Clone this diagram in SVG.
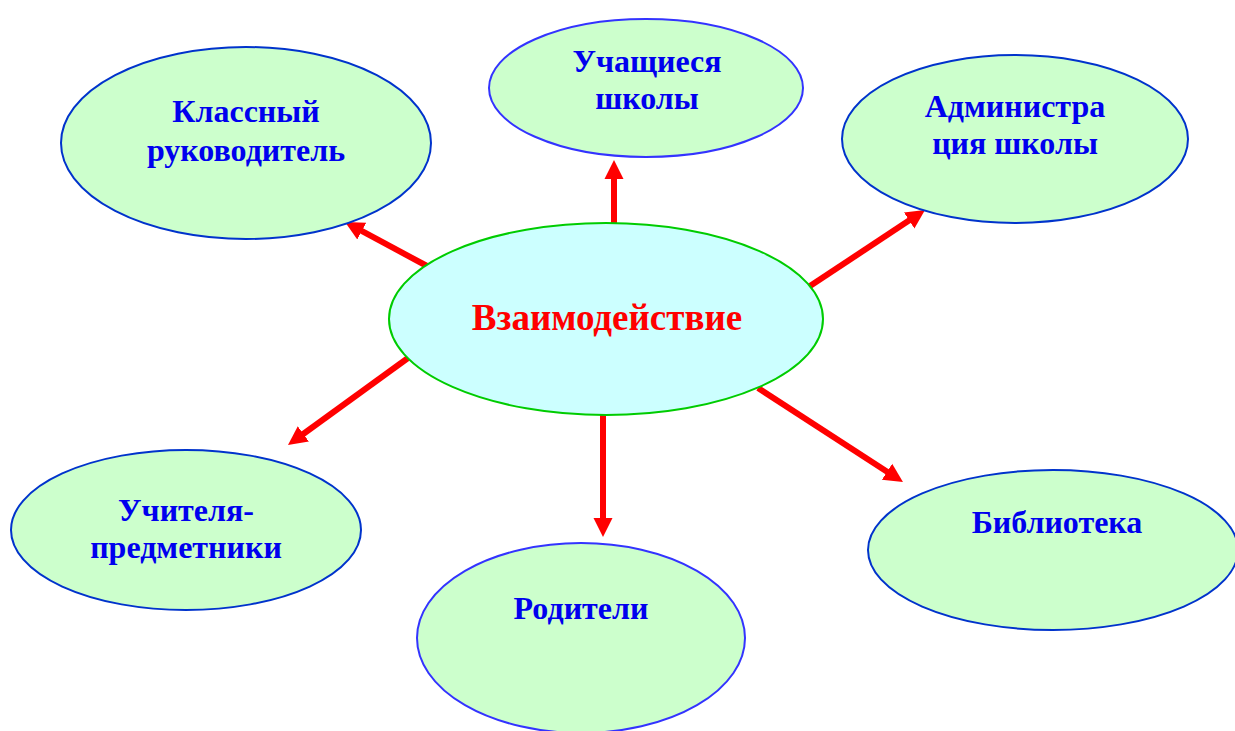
<svg xmlns="http://www.w3.org/2000/svg" width="1235" height="731" viewBox="0 0 1235 731">
<style>
.node{fill:#ccffcc;stroke:#0033cc;stroke-width:2}
.node2{fill:#ccffcc;stroke:#3333ff;stroke-width:2}
.center{fill:#ccffff;stroke:#00cc00;stroke-width:2}
.lbl{font-family:"Liberation Serif","Times New Roman",serif;font-weight:bold;font-size:32px;fill:#0000ee;text-anchor:middle}
.clbl{font-family:"Liberation Serif","Times New Roman",serif;font-weight:bold;font-size:37px;fill:#ff0000;text-anchor:middle}
.conn{stroke:#ff0000;stroke-width:6;fill:none;marker-end:url(#ah)}
</style>
<defs>
<marker id="ah" markerUnits="userSpaceOnUse" markerWidth="24" markerHeight="24" viewBox="0 -12 24 24" refX="7" refY="0" orient="auto">
<path d="M0,-9.5 L19,0 L0,9.5 z" fill="#ff0000"/>
</marker>
</defs>
<rect width="1235" height="731" fill="#ffffff"/>
<g id="connectors">
<line class="conn" x1="427" y1="266" x2="355.6" y2="227.7"/>
<line class="conn" x1="614" y1="224" x2="614" y2="172"/>
<line class="conn" x1="810" y1="286" x2="915" y2="216.6"/>
<line class="conn" x1="408" y1="358" x2="297.7" y2="438"/>
<line class="conn" x1="603" y1="413" x2="603" y2="525"/>
<line class="conn" x1="758" y1="388" x2="892.9" y2="475.5"/>
</g>
<g id="node-klassny">
<ellipse class="node" cx="246" cy="143" rx="185" ry="96"/>
<text class="lbl" x="246" y="122">Классный</text>
<text class="lbl" x="246" y="161">руководитель</text>
</g>
<g id="node-uchaschiesya">
<ellipse class="node2" cx="646" cy="88" rx="157" ry="69"/>
<text class="lbl" x="647" y="72">Учащиеся</text>
<text class="lbl" x="647" y="109">школы</text>
</g>
<g id="node-admin">
<ellipse class="node" cx="1015" cy="139" rx="173" ry="84"/>
<text class="lbl" x="1015" y="117">Администра</text>
<text class="lbl" x="1015" y="154">ция школы</text>
</g>
<g id="node-uchitelya">
<ellipse class="node" cx="186" cy="530" rx="175" ry="80"/>
<text class="lbl" x="186" y="521">Учителя-</text>
<text class="lbl" x="186" y="558">предметники</text>
</g>
<g id="node-roditeli">
<ellipse class="node2" cx="581" cy="638" rx="164" ry="95"/>
<text class="lbl" x="581" y="619">Родители</text>
</g>
<g id="node-biblioteka">
<ellipse class="node" cx="1053" cy="550" rx="185" ry="80"/>
<text class="lbl" x="1057" y="533">Библиотека</text>
</g>
<g id="node-center">
<ellipse class="center" cx="606" cy="319" rx="217" ry="96"/>
<text class="clbl" x="607" y="330">Взаимодействие</text>
</g>
</svg>
